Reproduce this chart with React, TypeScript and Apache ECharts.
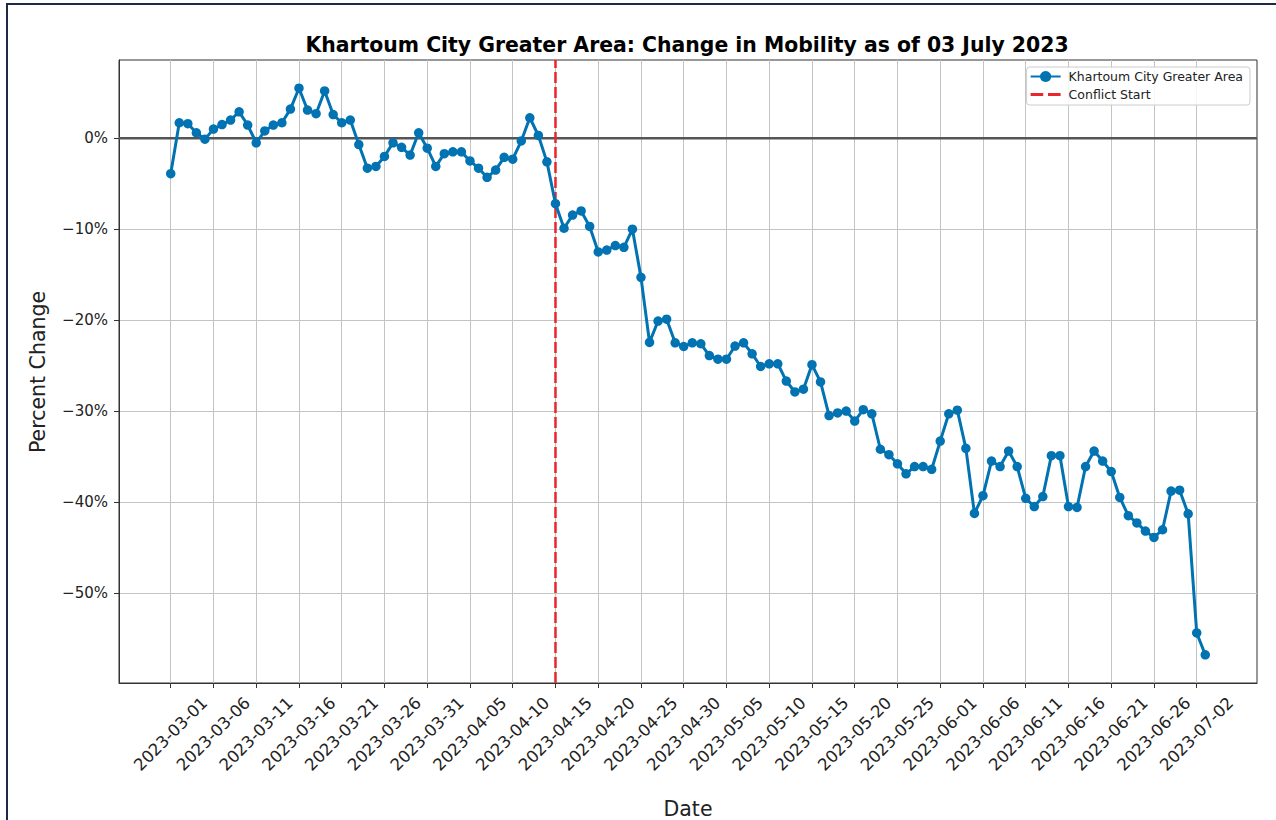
import React, { useEffect, useRef } from 'react';
import * as echarts from 'echarts';

const seriesName = 'Khartoum City Greater Area';
const conflictName = 'Conflict Start';
const titleText = 'Khartoum City Greater Area: Change in Mobility as of 03 July 2023';
const xAxisTitle = 'Date';
const yAxisTitle = 'Percent Change';

const tickLabels = [
  '2023-03-01', '2023-03-06', '2023-03-11', '2023-03-16', '2023-03-21',
  '2023-03-26', '2023-03-31', '2023-04-05', '2023-04-10', '2023-04-15',
  '2023-04-20', '2023-04-25', '2023-04-30', '2023-05-05', '2023-05-10',
  '2023-05-15', '2023-05-20', '2023-05-25', '2023-06-01', '2023-06-06',
  '2023-06-11', '2023-06-16', '2023-06-21', '2023-06-26', '2023-07-02',
];
const tickIndices = [
  0, 5, 10, 15, 20, 25, 30, 35, 40, 45, 50, 55, 60, 65, 70, 75, 80, 85, 90, 95,
  100, 105, 110, 115, 120,
];

const mobilityValues = [
  -3.9, 1.7, 1.6, 0.6, -0.1, 1.0, 1.5, 2.0, 2.9, 1.45, -0.5, 0.8, 1.45, 1.7, 3.2,
  5.5, 3.1, 2.7, 5.2, 2.6, 1.7,
  2.0, -0.7, -3.3, -3.1, -2.0, -0.5, -1.0, -1.85, 0.6, -1.1, -3.1, -1.7, -1.5,
  -1.5, -2.5, -3.3, -4.3, -3.5, -2.1, -2.3, -0.3, 2.25, 0.3, -2.6, -7.2, -9.9,
  -8.45, -8.0, -9.7, -12.5, -12.3, -11.8, -12.0, -10.0, -15.3, -22.45, -20.1,
  -19.9, -22.5, -22.9, -22.5, -22.6, -23.9, -24.3, -24.3,
  -22.85, -22.5, -23.7, -25.1, -24.8, -24.8, -26.7, -27.9, -27.6, -24.9, -26.8,
  -30.5, -30.2, -30.0, -31.1, -29.85, -30.3, -34.2, -34.8, -35.8,
  -36.9, -36.1, -36.1, -36.4, -33.3, -30.3, -29.9, -34.1, -41.25, -39.3, -35.5,
  -36.1, -34.4, -36.1, -39.6, -40.5, -39.4, -34.9, -34.9,
  -40.5, -40.6, -36.1, -34.4, -35.5, -36.65, -39.5, -41.5, -42.3, -43.2, -43.9,
  -43.05, -38.8, -38.7, -41.3, -54.4, -56.8,
];

const conflictIndex = 45;
const yTicks = [0, -10, -20, -30, -40, -50];
const xMin = -6.05;
const xMax = 127.05;
const yMin = -59.9;
const yMax = 8.6;

const FONT = '"DejaVu Sans", "Liberation Sans", sans-serif';
const BLUE = '#0173b2';
const RED = '#e8262b';
const DASH_ICON = 'path://M0 0H10.5V2.5H0Z M14.5 0H25V2.5H14.5Z';

export default function App() {
  const ref = useRef<HTMLDivElement>(null);

  useEffect(() => {
    if (!ref.current) return;
    const chart = echarts.init(ref.current, null, { renderer: 'svg' });
    const lineData = mobilityValues.map((v, i) => [i, v]);

    chart.setOption({
      animation: false,
      backgroundColor: '#ffffff',
      grid: {
        left: 119,
        top: 60,
        width: 1138,
        height: 623,
        show: true,
        borderColor: '#333333',
        borderWidth: 1,
        backgroundColor: 'transparent',
        containLabel: false,
      },
      legend: {
        data: [
          { name: seriesName },
          { name: conflictName, icon: DASH_ICON, itemStyle: { color: RED } },
        ],
        orient: 'vertical',
        right: 26,
        top: 67,
        padding: [3, 7, 4, 3],
        itemGap: 5,
        itemWidth: 30,
        itemHeight: 14,
        symbolKeepAspect: true,
        backgroundColor: 'rgba(255,255,255,0.85)',
        borderColor: '#cccccc',
        borderWidth: 1,
        borderRadius: 3,
        textStyle: { fontFamily: FONT, fontSize: 12.5, color: '#222222', padding: [0, 0, 0, 3] },
      },
      xAxis: {
        type: 'value',
        min: xMin,
        max: xMax,
        axisLine: { show: true, onZero: false, lineStyle: { color: '#333333', width: 1 } },
        axisTick: {
          show: true,
          customValues: tickIndices,
          length: 5,
          lineStyle: { color: '#333333', width: 1 },
        },
        axisLabel: {
          customValues: tickIndices,
          formatter: (v: number) => tickLabels[Math.round(v / 5)] ?? '',
          rotate: 45,
          align: 'center',
          verticalAlign: 'middle',
          margin: 51,
          fontFamily: FONT,
          fontSize: 16.5,
          color: '#222222',
        },
        splitLine: { show: true, lineStyle: { color: '#c4c4c4', width: 1 } },
      },
      yAxis: {
        type: 'value',
        min: yMin,
        max: yMax,
        axisLine: { show: true, onZero: false, lineStyle: { color: '#333333', width: 1 } },
        axisTick: {
          show: true,
          customValues: yTicks,
          length: 5,
          lineStyle: { color: '#333333', width: 1 },
        },
        axisLabel: {
          customValues: yTicks,
          formatter: (v: number) => (v === 0 ? '0%' : '\u2212' + Math.abs(v) + '%'),
          margin: 11,
          fontFamily: FONT,
          fontSize: 15,
          color: '#222222',
        },
        splitLine: { show: true, lineStyle: { color: '#c4c4c4', width: 1 } },
      },
      series: [
        {
          name: 'zero',
          type: 'line',
          data: [[xMin, 0], [xMax, 0]],
          symbol: 'none',
          silent: true,
          z: 1,
          lineStyle: { color: '#555555', width: 2.5 },
        },
        {
          name: conflictName,
          type: 'line',
          data: [[conflictIndex, yMin], [conflictIndex, yMax]],
          symbol: 'none',
          silent: true,
          z: 2,
          itemStyle: { color: RED },
          lineStyle: { color: RED, width: 2.5, type: [11, 4] },
        },
        {
          name: seriesName,
          type: 'line',
          data: lineData,
          symbol: 'circle',
          symbolSize: 9.5,
          z: 3,
          itemStyle: { color: BLUE },
          lineStyle: { color: BLUE, width: 3 },
        },
      ],
      graphic: [
        {
          type: 'line',
          shape: { x1: 6, y1: 4, x2: 1276, y2: 4 },
          style: { stroke: '#1c2b45', lineWidth: 2 },
        },
        {
          type: 'line',
          shape: { x1: 7, y1: 4, x2: 7, y2: 820 },
          style: { stroke: '#1c2b45', lineWidth: 2 },
        },
        {
          type: 'text',
          x: 687,
          y: 45,
          style: {
            text: titleText,
            font: `bold 20.4px ${FONT}`,
            fill: '#000000',
            align: 'center',
            verticalAlign: 'middle',
          },
        },
        {
          type: 'text',
          x: 38,
          y: 372,
          rotation: Math.PI / 2,
          style: {
            text: yAxisTitle,
            font: `20.5px ${FONT}`,
            fill: '#222222',
            align: 'center',
            verticalAlign: 'middle',
          },
        },
        {
          type: 'text',
          x: 688,
          y: 809,
          style: {
            text: xAxisTitle,
            font: `20.5px ${FONT}`,
            fill: '#222222',
            align: 'center',
            verticalAlign: 'middle',
          },
        },
      ],
    });

    return () => chart.dispose();
  }, []);

  return (
    <div
      ref={ref}
      style={{ position: 'absolute', left: 0, top: 0, width: 1276, height: 820, background: '#ffffff' }}
    />
  );
}
